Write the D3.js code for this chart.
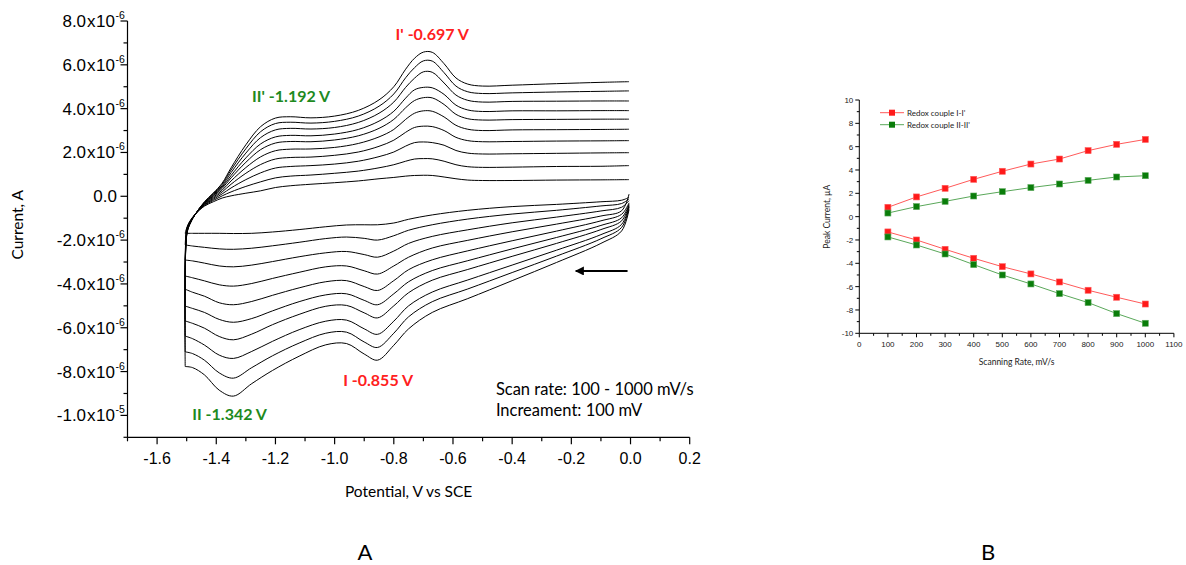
<!DOCTYPE html>
<html><head><meta charset="utf-8">
<script src="https://cdn.jsdelivr.net/npm/d3@7"></script>
<style>body{margin:0;background:#fff}svg{display:block}</style>
</head><body>
<svg id="c" width="1186" height="565"></svg>
<script>
// ---------- Panel A data (potential in V, current in µA) ----------
const scanRates = [100,200,300,400,500,600,700,800,900,1000];
const potentialCathodic = [-0.005,-0.03,-0.1,-0.25,-0.4,-0.55,-0.67,-0.75,-0.80,-0.855,-0.90,-0.96,-1.03,-1.12,-1.21,-1.28,-1.342,-1.39,-1.44,-1.48,-1.505];
const cathodicCurrents = [
 [-0.05,-0.18,-0.25,-0.37,-0.47,-0.64,-0.85,-1.05,-1.22,-1.30,-1.30,-1.31,-1.39,-1.52,-1.63,-1.69,-1.70,-1.69,-1.69,-1.69,-1.69],
 [-0.12,-0.33,-0.44,-0.64,-0.81,-1.04,-1.30,-1.55,-1.80,-2.00,-1.92,-1.86,-1.93,-2.10,-2.26,-2.37,-2.42,-2.40,-2.33,-2.27,-2.22],
 [-0.20,-0.50,-0.67,-0.95,-1.21,-1.53,-1.83,-2.15,-2.50,-2.78,-2.66,-2.52,-2.58,-2.76,-2.98,-3.14,-3.22,-3.18,-3.05,-2.95,-2.91],
 [0.10,-0.66,-0.90,-1.27,-1.62,-2.01,-2.36,-2.78,-3.18,-3.55,-3.40,-3.18,-3.22,-3.47,-3.75,-3.98,-4.10,-4.04,-3.86,-3.72,-3.64],
 [-0.30,-0.82,-1.12,-1.59,-2.03,-2.49,-2.90,-3.35,-3.85,-4.30,-4.12,-3.85,-3.90,-4.18,-4.52,-4.80,-4.95,-4.86,-4.56,-4.38,-4.24],
 [-0.35,-0.98,-1.33,-1.88,-2.40,-2.94,-3.39,-3.90,-4.45,-4.95,-4.75,-4.45,-4.50,-4.81,-5.23,-5.58,-5.75,-5.62,-5.30,-5.12,-5.01],
 [-0.40,-1.12,-1.52,-2.15,-2.74,-3.34,-3.83,-4.40,-5.00,-5.55,-5.32,-4.98,-5.02,-5.39,-5.86,-6.29,-6.55,-6.40,-6.02,-5.80,-5.69],
 [-0.45,-1.28,-1.75,-2.46,-3.14,-3.82,-4.37,-5.00,-5.70,-6.30,-6.05,-5.65,-5.70,-6.09,-6.62,-7.08,-7.40,-7.25,-6.79,-6.50,-6.38],
 [-0.50,-1.42,-1.94,-2.73,-3.48,-4.23,-4.81,-5.50,-6.25,-6.90,-6.65,-6.20,-6.25,-6.70,-7.28,-7.82,-8.30,-8.06,-7.48,-7.18,-7.10],
 [-0.60,-1.58,-2.15,-3.02,-3.85,-4.67,-5.30,-6.05,-6.80,-7.48,-7.20,-6.72,-6.78,-7.30,-7.95,-8.55,-9.12,-8.85,-8.15,-7.82,-7.77]
];
const potentialAnodic = [-1.505,-1.50,-1.49,-1.47,-1.44,-1.41,-1.38,-1.35,-1.30,-1.25,-1.20,-1.15,-1.08,-1.00,-0.92,-0.85,-0.80,-0.76,-0.73,-0.70,-0.67,-0.63,-0.59,-0.55,-0.50,-0.40,-0.25,-0.10,-0.005];
const anodicCurrents = [
 [-1.69,-1.45,-1.15,-0.80,-0.45,-0.25,-0.08,0.02,0.14,0.25,0.40,0.48,0.55,0.62,0.70,0.80,0.86,0.92,0.95,0.96,0.95,0.88,0.80,0.74,0.72,0.72,0.74,0.75,0.76],
 [-2.22,-1.50,-1.17,-0.80,-0.42,-0.19,0.02,0.20,0.45,0.66,0.84,0.92,0.97,1.05,1.15,1.30,1.44,1.60,1.70,1.72,1.71,1.60,1.44,1.35,1.32,1.33,1.36,1.37,1.40],
 [-2.91,-1.55,-1.19,-0.80,-0.39,-0.14,0.11,0.38,0.76,1.07,1.29,1.36,1.40,1.47,1.60,1.81,2.02,2.29,2.45,2.48,2.45,2.33,2.09,1.97,1.93,1.94,1.96,1.98,1.99],
 [-3.64,-1.59,-1.21,-0.80,-0.37,-0.09,0.20,0.55,1.05,1.45,1.70,1.77,1.79,1.87,2.02,2.28,2.56,2.92,3.14,3.20,3.18,3.00,2.69,2.54,2.49,2.50,2.52,2.53,2.54],
 [-4.24,-1.64,-1.23,-0.80,-0.34,-0.04,0.28,0.70,1.31,1.80,2.08,2.15,2.16,2.23,2.41,2.71,3.05,3.51,3.79,3.90,3.88,3.62,3.24,3.06,3.00,3.03,3.04,3.05,3.06],
 [-5.01,-1.67,-1.25,-0.80,-0.32,0.01,0.36,0.84,1.55,2.13,2.43,2.50,2.49,2.57,2.76,3.10,3.51,4.04,4.37,4.50,4.49,4.19,3.74,3.54,3.48,3.50,3.51,3.52,3.52],
 [-5.69,-1.71,-1.26,-0.80,-0.30,0.04,0.42,0.95,1.75,2.39,2.71,2.78,2.76,2.84,3.05,3.43,3.88,4.48,4.86,4.97,4.95,4.65,4.16,3.94,3.87,3.90,3.90,3.91,3.91],
 [-6.38,-1.74,-1.27,-0.80,-0.28,0.08,0.48,1.08,1.97,2.68,3.03,3.10,3.07,3.14,3.37,3.79,4.30,4.97,5.39,5.68,5.66,5.17,4.62,4.38,4.30,4.33,4.34,4.35,4.35],
 [-7.10,-1.77,-1.29,-0.80,-0.27,0.12,0.55,1.20,2.17,2.95,3.32,3.38,3.34,3.42,3.66,4.11,4.67,5.41,5.87,6.18,6.17,5.64,5.03,4.77,4.69,4.72,4.76,4.79,4.81],
 [-7.77,-1.80,-1.30,-0.80,-0.25,0.15,0.60,1.30,2.35,3.18,3.57,3.63,3.58,3.66,3.92,4.40,5.00,5.80,6.30,6.58,6.57,6.05,5.40,5.12,5.03,5.07,5.14,5.20,5.23]
];
const yTicksA = [8,6,4,2,0,-2,-4,-6,-8,-10];       // µA
const yTickLabelsA = [["8.0","-6"],["6.0","-6"],["4.0","-6"],["2.0","-6"],["0.0",null],["-2.0","-6"],["-4.0","-6"],["-6.0","-6"],["-8.0","-6"],["-1.0","-5"]];
const xTicksA = [-1.6,-1.4,-1.2,-1.0,-0.8,-0.6,-0.4,-0.2,0.0,0.2];
const peakLabels = [
 {text:"I' -0.697 V", v:-0.67, i:7.13, color:"#ff2020"},
 {text:"II' -1.192 V", v:-1.147, i:4.3, color:"#1e8a1e"},
 {text:"I -0.855 V", v:-0.853, i:-8.66, color:"#ff2020"},
 {text:"II -1.342 V", v:-1.355, i:-10.2, color:"#1e8a1e"}
];
const noteLines = ["Scan rate: 100 - 1000 mV/s", "Increament: 100 mV"];

// ---------- Panel B data (scan rate mV/s, peak current µA) ----------
const rates = [100,200,300,400,500,600,700,800,900,1000];
const redoxI_anodic  = [0.80,1.69,2.43,3.20,3.89,4.51,4.94,5.66,6.20,6.62];
const redoxII_anodic = [0.31,0.86,1.31,1.77,2.14,2.49,2.80,3.11,3.40,3.51];
const redoxI_cathodic  = [-1.31,-2.00,-2.80,-3.57,-4.29,-4.91,-5.60,-6.31,-6.91,-7.49];
const redoxII_cathodic = [-1.74,-2.43,-3.20,-4.11,-5.00,-5.77,-6.60,-7.37,-8.31,-9.14];
const xTicksB = [0,100,200,300,400,500,600,700,800,900,1000,1100];
const yTicksB = [-10,-8,-6,-4,-2,0,2,4,6,8,10];

const svg = d3.select("#c");

// ================= Panel A =================
const xA = d3.scaleLinear().domain([-1.7,0.2]).range([127.5,689.7]);
const yA = d3.scaleLinear().domain([-11,8]).range([437.3,21]);
const gA = svg.append("g");

const lineA = d3.line().x(d=>xA(d[0])).y(d=>yA(d[1])).curve(d3.curveCatmullRom.alpha(0.5));
scanRates.forEach((r,k)=>{
  const pts = potentialCathodic.map((v,j)=>[v,cathodicCurrents[k][j]])
    .concat(potentialAnodic.map((v,j)=>[v,anodicCurrents[k][j]]));
  gA.append("path").attr("d",lineA(pts)).attr("fill","none").attr("stroke","#000").attr("stroke-width",1);
});

// axes
const axA = gA.append("g").attr("stroke","#000").attr("stroke-width",1.2);
axA.append("line").attr("x1",xA(-1.7)).attr("x2",xA(-1.7)).attr("y1",yA(8)).attr("y2",yA(-11));
axA.append("line").attr("x1",xA(-1.7)).attr("x2",xA(0.2)).attr("y1",yA(-11)).attr("y2",yA(-11));
d3.range(-11,9,1).forEach(t=>{
  const major = yTicksA.includes(t);
  axA.append("line").attr("x1",xA(-1.7)-(major?7:4)).attr("x2",xA(-1.7)).attr("y1",yA(t)).attr("y2",yA(t));
});
d3.range(-1.7,0.21,0.1).forEach(t=>{
  const major = xTicksA.some(m=>Math.abs(m-t)<1e-6);
  axA.append("line").attr("x1",xA(t)).attr("x2",xA(t)).attr("y1",yA(-11)).attr("y2",yA(-11)+(major?7:4));
});
yTicksA.forEach((t,k)=>{
  const lab = yTickLabelsA[k];
  const txt = gA.append("text").attr("x",lab[1]?115:117).attr("y",yA(t)+6)
    .attr("text-anchor","end").attr("font-family","Liberation Sans, Arial, sans-serif").attr("font-size",17).attr("fill","#000");
  if(lab[1]){
    txt.append("tspan").text(lab[0]);
    txt.append("tspan").attr("dx",1).text("x");
    txt.append("tspan").attr("dx",0.5).text("10");
    gA.append("text").attr("x",115.5).attr("y",yA(t)-2).attr("font-family","Liberation Sans, Arial, sans-serif")
      .attr("font-size",10.5).attr("fill","#000").text(lab[1]);
  } else txt.text(lab[0]);
});
xTicksA.forEach(t=>{
  gA.append("text").attr("x",xA(t)).attr("y",yA(-11)+27).attr("text-anchor","middle")
    .attr("font-family","Liberation Sans, Arial, sans-serif").attr("font-size",16).attr("fill","#000").text(t.toFixed(1));
});
gA.append("text").attr("x",xA(-0.75)).attr("y",497).attr("text-anchor","middle")
  .attr("font-family","Lato, sans-serif").attr("font-size",15.5).attr("fill","#000").text("Potential, V vs SCE");
gA.append("text").attr("transform",`translate(23,${yA(-1.3)}) rotate(-90)`).attr("text-anchor","middle")
  .attr("font-family","Lato, sans-serif").attr("font-size",15.5).attr("fill","#000").text("Current, A");

peakLabels.forEach(p=>{
  gA.append("text").attr("x",xA(p.v)).attr("y",yA(p.i)).attr("text-anchor","middle")
    .attr("font-family","Lato, sans-serif").attr("font-weight","bold").attr("font-size",16).attr("fill",p.color).text(p.text);
});
noteLines.forEach((s,k)=>{
  gA.append("text").attr("x",xA(-0.455)).attr("y",yA(k===0?-9.07:-10.03)).attr("font-family","Lato, sans-serif")
    .attr("font-size",16.5).attr("fill","#000").text(s);
});

// arrow
const defs = svg.append("defs");
defs.append("marker").attr("id","ah").attr("viewBox","0 0 10 10").attr("refX",9).attr("refY",5)
  .attr("markerWidth",5).attr("markerHeight",4.5).attr("orient","auto")
  .append("path").attr("d","M0,0 L10,5 L0,10 z").attr("fill","#000");
gA.append("line").attr("x1",xA(-0.01)).attr("x2",xA(-0.185)).attr("y1",yA(-3.41)).attr("y2",yA(-3.41))
  .attr("stroke","#000").attr("stroke-width",2).attr("marker-end","url(#ah)");

svg.append("text").attr("x",365).attr("y",560).attr("text-anchor","middle").attr("font-family","Lato, sans-serif").attr("font-size",22).attr("fill","#000").text("A");
svg.append("text").attr("x",988).attr("y",560).attr("text-anchor","middle").attr("font-family","Lato, sans-serif").attr("font-size",22).attr("fill","#000").text("B");

// ================= Panel B =================
const xB = d3.scaleLinear().domain([0,1100]).range([859.3,1173.9]);
const yB = d3.scaleLinear().domain([-10,10]).range([333.3,100]);
const gB = svg.append("g");
const axB = gB.append("g").attr("stroke","#000").attr("stroke-width",1);
axB.append("line").attr("x1",xB(0)).attr("x2",xB(0)).attr("y1",yB(10)).attr("y2",yB(-10));
axB.append("line").attr("x1",xB(0)).attr("x2",xB(1100)).attr("y1",yB(-10)).attr("y2",yB(-10));
d3.range(-10,11,1).forEach(t=>{
  const major = yTicksB.includes(t);
  axB.append("line").attr("x1",xB(0)-(major?4:2.5)).attr("x2",xB(0)).attr("y1",yB(t)).attr("y2",yB(t));
});
d3.range(0,1101,50).forEach(t=>{
  const major = xTicksB.includes(t);
  axB.append("line").attr("x1",xB(t)).attr("x2",xB(t)).attr("y1",yB(-10)).attr("y2",yB(-10)+(major?4:2.5));
});
yTicksB.forEach(t=>{
  gB.append("text").attr("x",xB(0)-6).attr("y",yB(t)+3).attr("text-anchor","end")
    .attr("font-family","Liberation Sans, Arial, sans-serif").attr("font-size",8).attr("fill","#222").text(t);
});
xTicksB.forEach(t=>{
  gB.append("text").attr("x",xB(t)).attr("y",yB(-10)+14).attr("text-anchor","middle")
    .attr("font-family","Liberation Sans, Arial, sans-serif").attr("font-size",8).attr("fill","#222").text(t);
});
gB.append("text").attr("x",xB(550)).attr("y",365).attr("text-anchor","middle")
  .attr("font-family","Lato, sans-serif").attr("font-size",8.5).attr("fill","#222").text("Scanning Rate, mV/s");
gB.append("text").attr("transform",`translate(830,${yB(0)}) rotate(-90)`).attr("text-anchor","middle")
  .attr("font-family","Lato, sans-serif").attr("font-size",8.5).attr("fill","#222").text("Peak Current, µA");

const seriesB = [
  {vals:redoxI_anodic, color:"#ff1a1a", line:"#ff5a5a"},
  {vals:redoxII_anodic, color:"#0a7d0a", line:"#5aa85a"},
  {vals:redoxI_cathodic, color:"#ff1a1a", line:"#ff5a5a"},
  {vals:redoxII_cathodic, color:"#0a7d0a", line:"#5aa85a"}
];
const lineB = d3.line().x(d=>xB(d[0])).y(d=>yB(d[1]));
seriesB.forEach(s=>{
  const pts = rates.map((r,k)=>[r,s.vals[k]]);
  gB.append("path").attr("d",lineB(pts)).attr("fill","none").attr("stroke",s.line).attr("stroke-width",1);
  gB.selectAll(null).data(pts).enter().append("rect")
    .attr("x",d=>xB(d[0])-3).attr("y",d=>yB(d[1])-3).attr("width",6).attr("height",6)
    .attr("fill",s.color).attr("stroke",s.line).attr("stroke-width",0.6);
});
const legend = [{label:"Redox couple I-I'", color:"#ff1a1a", line:"#ff5a5a"},{label:"Redox couple II-II'", color:"#0a7d0a", line:"#5aa85a"}];
legend.forEach((l,k)=>{
  const y = 112.7 + k*12;
  gB.append("line").attr("x1",880).attr("x2",904).attr("y1",y).attr("y2",y).attr("stroke",l.line).attr("stroke-width",1);
  gB.append("rect").attr("x",889).attr("y",y-3).attr("width",6).attr("height",6).attr("fill",l.color);
  gB.append("text").attr("x",907).attr("y",y+3).attr("font-family","Lato, sans-serif").attr("font-size",8).attr("fill","#222").text(l.label);
});
</script>
</body></html>
